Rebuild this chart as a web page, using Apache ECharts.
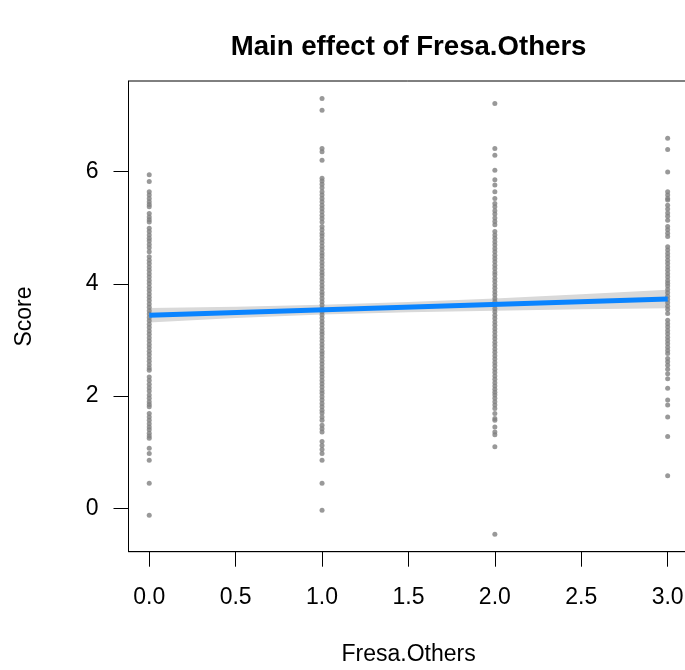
<!DOCTYPE html>
<html>
<head>
<meta charset="utf-8">
<script src="https://cdn.jsdelivr.net/npm/echarts@6/dist/echarts.min.js"></script>
<style>
  html, body { margin: 0; padding: 0; background: #fff; }
  #chart { width: 685px; height: 670px; }
</style>
</head>
<body>
<div id="chart"></div>
<script>
// Observed scores for each level of Fresa.Others
const score0 = [5.94, 5.82, 5.64, 5.58, 5.52, 5.46, 5.41, 5.37, 5.25, 5.19, 5.14, 5.10,
  4.99, 4.93, 4.87, 4.81, 4.76, 4.70, 4.64, 4.57, 4.48, 4.42, 4.36, 4.30, 4.24, 4.18,
  4.12, 4.06, 4.00, 3.94, 3.88, 3.82, 3.76, 3.70, 3.64, 3.58, 3.52, 3.46, 3.40, 3.34,
  3.28, 3.22, 3.16, 3.10, 3.04, 2.98, 2.92, 2.86, 2.80, 2.74, 2.68, 2.62, 2.56, 2.50,
  2.46, 2.34, 2.28, 2.21, 2.15, 2.09, 2.02, 1.96, 1.90, 1.85, 1.81, 1.69, 1.63, 1.57,
  1.51, 1.45, 1.40, 1.34, 1.29, 1.25, 1.07, 0.98, 0.86, 0.45, -0.12];
const score1 = [7.30, 7.09, 6.41, 6.35, 6.20, 5.88, 5.83, 5.77, 5.71, 5.64, 5.58, 5.52,
  5.46, 5.40, 5.34, 5.28, 5.22, 5.16, 5.10, 5.02, 4.96, 4.90, 4.85, 4.79, 4.73, 4.67,
  4.61, 4.55, 4.50, 4.44, 4.38, 4.32, 4.26, 4.20, 4.15, 4.09, 4.03, 3.97, 3.91, 3.85,
  3.80, 3.74, 3.68, 3.62, 3.56, 3.50, 3.45, 3.39, 3.33, 3.27, 3.21, 3.15, 3.10, 3.04,
  2.98, 2.92, 2.86, 2.80, 2.75, 2.69, 2.63, 2.57, 2.51, 2.45, 2.40, 2.34, 2.28, 2.22,
  2.16, 2.10, 2.05, 1.99, 1.93, 1.87, 1.81, 1.75, 1.70, 1.63, 1.57, 1.48, 1.42, 1.36,
  1.19, 1.12, 1.05, 0.98, 0.86, 0.45, -0.03];
const score2 = [7.21, 6.41, 6.29, 6.02, 5.85, 5.76, 5.64, 5.52, 5.43, 5.37, 5.30, 5.24,
  5.17, 5.11, 5.05, 4.93, 4.87, 4.81, 4.75, 4.69, 4.63, 4.57, 4.51, 4.45, 4.39, 4.33,
  4.27, 4.21, 4.16, 4.10, 4.04, 3.98, 3.92, 3.86, 3.80, 3.74, 3.68, 3.62, 3.56, 3.50,
  3.44, 3.38, 3.32, 3.26, 3.20, 3.14, 3.08, 3.02, 2.96, 2.90, 2.84, 2.78, 2.72, 2.66,
  2.60, 2.54, 2.48, 2.42, 2.36, 2.30, 2.24, 2.18, 2.12, 2.07, 2.02, 1.96, 1.90, 1.84,
  1.78, 1.69, 1.60, 1.57, 1.45, 1.36, 1.31, 1.10, -0.46];
const score3 = [6.59, 6.39, 5.99, 5.64, 5.58, 5.52, 5.49, 5.40, 5.33, 5.26, 5.20, 5.13,
  5.02, 4.96, 4.90, 4.84, 4.66, 4.60, 4.54, 4.48, 4.42, 4.36, 4.30, 4.24, 4.18, 4.12,
  4.06, 4.01, 3.96, 3.90, 3.84, 3.78, 3.72, 3.66, 3.60, 3.54, 3.47, 3.35, 3.29, 3.23,
  3.17, 3.11, 3.05, 2.99, 2.93, 2.87, 2.81, 2.76, 2.67, 2.61, 2.55, 2.48, 2.40, 2.31,
  2.14, 1.93, 1.84, 1.63, 1.28, 0.58];

// Fitted effect line and its confidence band
const fitX = [0, 3];
const fitY = [3.44, 3.73];
const bandX = [0, 0.5, 1, 1.5, 2, 2.5, 3];
const bandLower = [3.31, 3.39, 3.455, 3.495, 3.52, 3.545, 3.565];
const bandUpper = [3.57, 3.59, 3.625, 3.675, 3.74, 3.815, 3.895];

// Axis ticks
const xTicks = [0, 0.5, 1, 1.5, 2, 2.5, 3];
const yTicks = [0, 2, 4, 6];

const FONT = "'Liberation Sans', Arial, Helvetica, sans-serif";

const points = [];
[score0, score1, score2, score3].forEach((col, level) => {
  col.forEach(v => points.push([level, v]));
});

const chart = echarts.init(document.getElementById('chart'), null, { renderer: 'canvas' });

chart.setOption({
  animation: false,
  backgroundColor: '#fff',
  textStyle: { fontFamily: FONT },
  // plot box runs slightly past the right edge of the canvas
  grid: {
    left: 128.5, top: 81, width: 559.9, bottom: 118.3,
    outerBoundsMode: 'none',
    containLabel: false,
    show: true, borderColor: '#000', borderWidth: 1, backgroundColor: 'transparent'
  },
  xAxis: {
    type: 'value', min: -0.12, max: 3.12,
    axisLine: { show: true, onZero: false, lineStyle: { color: '#000', width: 1 } },
    axisTick: { show: true, length: 15, customValues: xTicks, lineStyle: { color: '#000', width: 1 } },
    axisLabel: {
      customValues: xTicks, margin: 34, color: '#000', fontSize: 23, fontFamily: FONT,
      formatter: v => Number(v).toFixed(1)
    },
    splitLine: { show: false }
  },
  yAxis: {
    type: 'value', min: -0.77, max: 7.61,
    axisLine: { show: true, onZero: false, lineStyle: { color: '#000', width: 1 } },
    axisTick: { show: true, length: 15, customValues: yTicks, lineStyle: { color: '#000', width: 1 } },
    axisLabel: {
      customValues: yTicks, margin: 30, color: '#000', fontSize: 23, fontFamily: FONT,
      formatter: v => String(v)
    },
    splitLine: { show: false }
  },
  graphic: [
    {
      type: 'text', x: 408.6, y: 47,
      style: {
        text: 'Main effect of Fresa.Others', fill: '#000',
        font: 'bold 27.6px ' + FONT, textAlign: 'center', textVerticalAlign: 'middle'
      }
    },
    {
      type: 'text', x: 408.6, y: 655,
      style: {
        text: 'Fresa.Others', fill: '#000',
        font: '23px ' + FONT, textAlign: 'center', textVerticalAlign: 'middle'
      }
    },
    {
      type: 'text', x: 25, y: 316.5, rotation: Math.PI / 2,
      style: {
        text: 'Score', fill: '#000',
        font: '23px ' + FONT, textAlign: 'center', textVerticalAlign: 'middle'
      }
    }
  ],
  series: [
    {
      type: 'custom',
      silent: true,
      clip: true,
      z: 1,
      data: [0],
      renderItem: (params, api) => {
        const pts = [];
        bandX.forEach((x, i) => pts.push(api.coord([x, bandUpper[i]])));
        for (let i = bandX.length - 1; i >= 0; i--) pts.push(api.coord([bandX[i], bandLower[i]]));
        return { type: 'polygon', shape: { points: pts }, style: { fill: '#d9d9d9' } };
      }
    },
    {
      type: 'scatter',
      silent: true,
      z: 2,
      symbol: 'circle',
      symbolSize: 5,
      itemStyle: { color: '#808080' },
      data: points
    },
    {
      type: 'line',
      silent: true,
      z: 3,
      symbol: 'none',
      lineStyle: { color: '#0a84ff', width: 5 },
      data: fitX.map((x, i) => [x, fitY[i]])
    }
  ]
});
</script>
</body>
</html>
